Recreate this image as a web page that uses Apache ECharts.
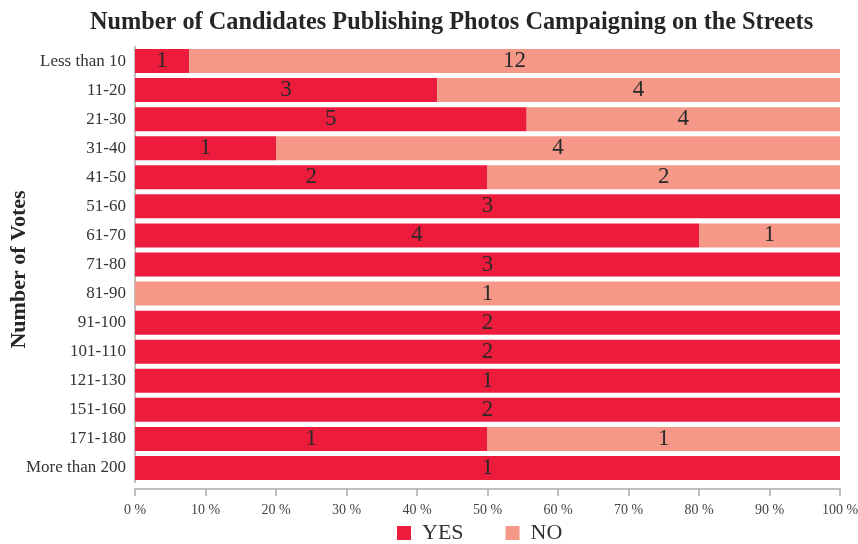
<!DOCTYPE html>
<html><head><meta charset="utf-8">
<script src="https://cdn.jsdelivr.net/npm/echarts@6/dist/echarts.min.js"></script>
<style>html,body{margin:0;padding:0;background:#fff}#c{width:858px;height:544px}</style>
</head><body><div id="c"></div>
<script>
var categories = ["Less than 10","11-20","21-30","31-40","41-50","51-60","61-70","71-80","81-90","91-100","101-110","121-130","151-160","171-180","More than 200"];
var yesCounts = [1,3,5,1,2,3,4,3,0,2,2,1,2,1,1];
var noCounts  = [12,4,4,4,2,0,1,0,1,0,0,0,0,1,0];
var xTicks = [0,10,20,30,40,50,60,70,80,90,100];

var FONT = "Liberation Serif";
function pct(a,b){return a.map(function(v,i){var t=a[i]+b[i];return t?v/t*100:0;});}
var yesPct = pct(yesCounts,noCounts);
var noPct = pct(noCounts,yesCounts);

var chart = echarts.init(document.getElementById('c'));
var labelCfg = function(counts){return {show:true,position:'inside',color:'#2a2a2a',fontFamily:FONT,fontSize:23,
  formatter:function(p){var c=counts[p.dataIndex];return c?String(c):'';}};};
chart.setOption({
  animation:false,
  title:{text:'Number of Candidates Publishing Photos Campaigning on the Streets',left:85,top:6,
    textStyle:{fontFamily:FONT,fontSize:24.3,fontWeight:'bold',color:'#262626'}},
  legend:{bottom:-5,left:392,itemWidth:14,itemHeight:14,itemGap:42,icon:'rect',
    textStyle:{fontFamily:FONT,fontSize:22,color:'#333',padding:[0,0,0,6]},data:['YES','NO']},
  grid:{left:135,right:18,top:46.5,bottom:61.5,containLabel:false,outerBoundsMode:'none'},
  xAxis:{type:'value',min:0,max:100,interval:10,offset:6.5,
    axisLine:{show:true,lineStyle:{color:'#aaa',width:1.5}},
    axisTick:{show:true,length:7,lineStyle:{color:'#aaa',width:1.5}},
    splitLine:{show:false},
    axisLabel:{fontFamily:FONT,fontSize:14,color:'#444',margin:14,formatter:function(v){return v+' %';}}},
  yAxis:{type:'category',inverse:true,data:categories,name:'Number of Votes',nameLocation:'middle',nameGap:105,
    nameMoveOverlap:false,
    nameTextStyle:{fontFamily:FONT,fontSize:22,fontWeight:'bold',color:'#262626',padding:[0,10,0,0]},
    axisLine:{show:true,lineStyle:{color:'#aaa',width:1.5}},axisTick:{show:false},
    axisLabel:{fontFamily:FONT,fontSize:17,color:'#333',margin:9}},
  series:[
    {name:'YES',type:'bar',stack:'s',data:yesPct,barWidth:24,itemStyle:{color:'#EE1C3C'},label:labelCfg(yesCounts)},
    {name:'NO',type:'bar',stack:'s',data:noPct,barWidth:24,itemStyle:{color:'#F59888'},label:labelCfg(noCounts)}
  ]
});
</script></body></html>
